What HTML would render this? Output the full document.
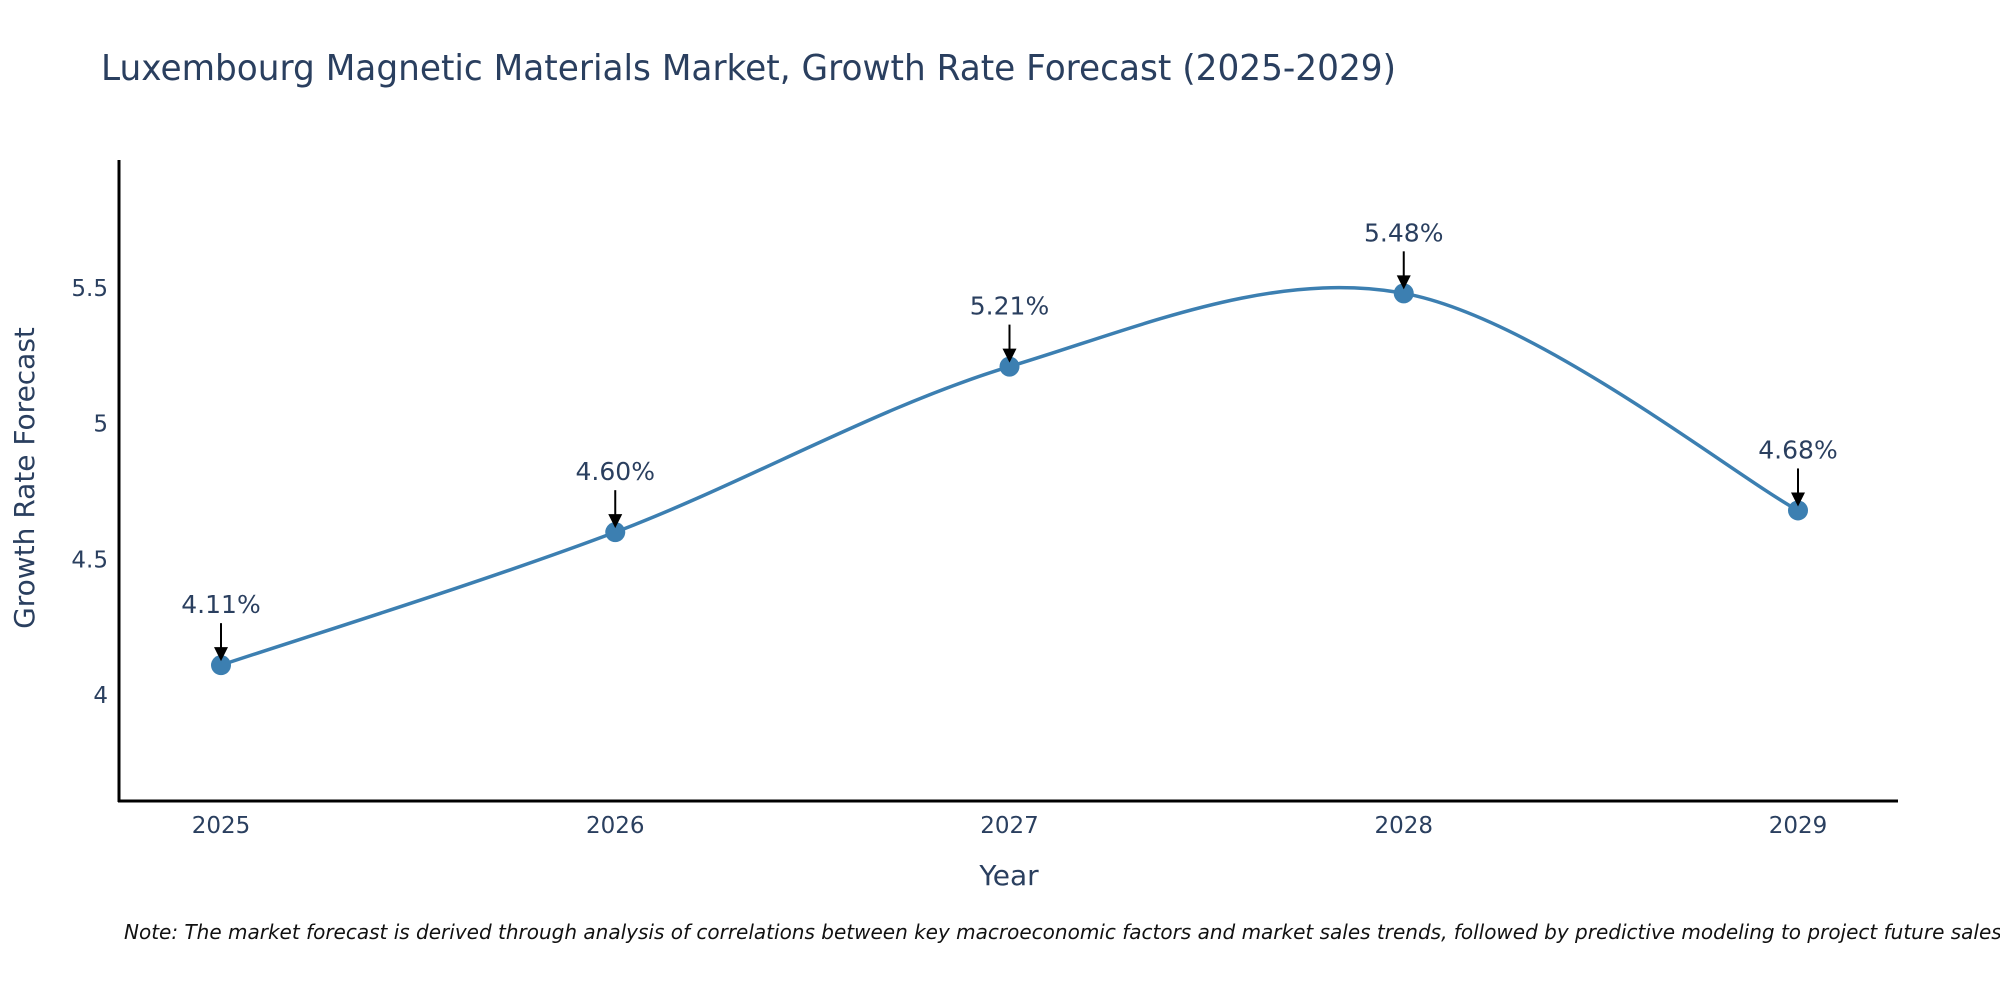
<!DOCTYPE html>
<html><head><meta charset="utf-8"><style>
html,body{margin:0;padding:0;background:#fff;}
svg text{font-family:"DejaVu Sans","Liberation Sans",sans-serif;fill:#2a3f5f;}
</style></head><body>
<svg id="chart" width="2000" height="1000" viewBox="0 0 2000 1000" xmlns="http://www.w3.org/2000/svg">
<rect width="2000" height="1000" fill="#fff"/>
<text x="101" y="80" font-size="36" textLength="1295" lengthAdjust="spacingAndGlyphs">Luxembourg Magnetic Materials Market, Growth Rate Forecast (2025-2029)</text>
<g id="yticks"></g><g id="xticks"></g>
<path id="line" fill="none" stroke="#3c7fb1" stroke-width="3.5"/>
<g id="points"></g>
<line x1="119" y1="160" x2="119" y2="802" stroke="#000" stroke-width="3"/>
<line x1="118" y1="801" x2="1898" y2="801" stroke="#000" stroke-width="3"/>
<text transform="translate(34,478) rotate(-90)" text-anchor="middle" font-size="28">Growth Rate Forecast</text>
<text x="1009" y="885" text-anchor="middle" font-size="28">Year</text>
<text x="124" y="939" font-size="20" font-style="italic" style="fill:#111">Note: The market forecast is derived through analysis of correlations between key macroeconomic factors and market sales trends, followed by predictive modeling to project future sales.</text>
</svg>
<script>
const years = [2025, 2026, 2027, 2028, 2029];
const growth = [4.11, 4.60, 5.21, 5.48, 4.68];
const labels = ["4.11%", "4.60%", "5.21%", "5.48%", "4.68%"];
const yTicks = [4, 4.5, 5, 5.5];
const yTickLabels = ["4", "4.5", "5", "5.5"];

const NS = "http://www.w3.org/2000/svg";
function xs(v){ return 221 + (v - 2025) * 394.25; }
function ys(v){ return 695 - (v - 4) * 271.4; }
function mk(tag, attrs, parent){
  const e = document.createElementNS(NS, tag);
  for (const k in attrs) e.setAttribute(k, attrs[k]);
  parent.appendChild(e); return e;
}
const yg = document.getElementById('yticks');
yTicks.forEach((t,i)=>{
  const e = mk('text',{x:108,y:ys(t)+8,'text-anchor':'end','font-size':23},yg);
  
  
  e.textContent = yTickLabels[i];
});
const xg = document.getElementById('xticks');
years.forEach(y=>{
  const e = mk('text',{x:xs(y),y:833,'text-anchor':'middle','font-size':23},xg);
  
  
  e.textContent = String(y);
});
const P = years.map((y,i)=>[xs(y), ys(growth[i])]);
let d = 'M' + P[0][0] + ',' + P[0][1];
const t = 0.5;
for (let i=0;i<P.length-1;i++){
  const p0 = P[i-1]||P[i], p1 = P[i], p2 = P[i+1], p3 = P[i+2]||P[i+1];
  const c1 = [p1[0]+(p2[0]-p0[0])*t/3, p1[1]+(p2[1]-p0[1])*t/3];
  const c2 = [p2[0]-(p3[0]-p1[0])*t/3, p2[1]-(p3[1]-p1[1])*t/3];
  d += ' C'+c1[0]+','+c1[1]+' '+c2[0]+','+c2[1]+' '+p2[0]+','+p2[1];
}
document.getElementById('line').setAttribute('d', d);
const pg = document.getElementById('points');
P.forEach((p,i)=>{
  const c = mk('circle',{cx:p[0],cy:p[1],r:10,fill:'#3c7fb1'},pg);
  
  
  const l = mk('line',{x1:p[0],y1:p[1]-42,x2:p[0],y2:p[1]-14,stroke:'#000','stroke-width':2},pg);
  
  
  const a = mk('polygon',{points:(p[0]-7)+','+(p[1]-18)+' '+(p[0]+7)+','+(p[1]-18)+' '+p[0]+','+(p[1]-4),fill:'#000'},pg);
  
  
  const tx = mk('text',{x:p[0],y:p[1]-52,'text-anchor':'middle','font-size':25},pg);
  
  
  tx.textContent = labels[i];
});
</script>
</body></html>
